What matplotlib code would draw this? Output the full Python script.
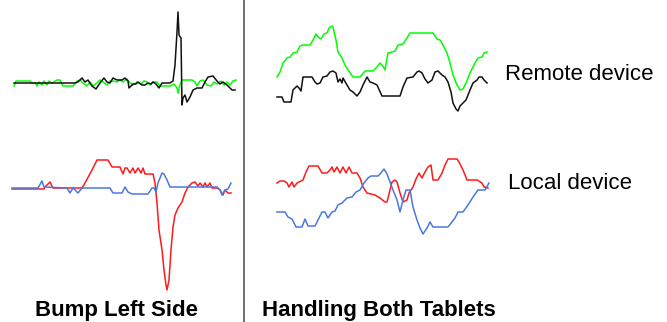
import matplotlib
matplotlib.use("Agg")
import matplotlib.pyplot as plt

# values (x along the trace, y in picture rows, down = larger)

# --- Bump Left Side, upper pair ---
bump_green_x = [14, 16, 30, 32, 35, 37, 39, 42, 44, 47, 49, 52, 57, 60, 63, 73, 77, 80, 83, 87, 90, 93,
                97, 100, 103, 107, 110, 113, 117, 120, 123, 127, 129, 133, 137, 141, 144, 147, 150, 153,
                157, 160, 170, 174, 177, 178, 180, 182, 192, 195, 197, 200, 203, 207, 211, 214, 217, 221,
                224, 227, 230, 233, 236]
bump_green_y = [86, 81, 81, 83, 83, 86, 82, 85, 81, 85, 81, 83, 80, 80, 86, 86, 81, 80, 83, 86, 82, 86,
                83, 80, 82, 85, 81, 81, 82, 80, 82, 79, 82, 85, 82, 84, 81, 82, 85, 82,
                82, 86, 86, 84, 88, 93, 85, 80, 80, 82, 86, 81, 80, 85, 86, 82, 84, 81,
                85, 82, 85, 81, 80]
bump_black_x = [14, 75, 78, 82, 85, 88, 92, 96, 100, 104, 107, 110, 113, 117, 122, 125, 128, 129, 133,
                136, 138, 142, 145, 148, 151, 153, 156, 159, 162, 170, 173, 175, 177, 178, 179, 181, 182,
                183, 185, 187, 190, 193, 197, 202, 205, 208, 213, 217, 220, 223, 227, 232, 235]
bump_black_y = [83, 83, 82, 78, 82, 80, 86, 89, 83, 78, 82, 83, 78, 80, 80, 78, 81, 88, 84,
                84, 82, 85, 85, 83, 84, 82, 84, 88, 83, 83, 81, 65, 32, 12, 35, 38, 105,
                98, 95, 102, 97, 90, 88, 88, 82, 77, 76, 81, 84, 82, 85, 90, 90]

# --- Bump Left Side, lower pair ---
bump_red_x = [12, 44, 45, 50, 53, 82, 85, 92, 97, 108, 112, 120, 123, 125, 127, 130, 133, 135, 138, 141,
              143, 145, 153, 155, 157, 159, 162, 164, 166, 167, 169, 171, 173, 175, 178, 182, 185, 188,
              192, 195, 198, 200, 203, 205, 207, 210, 212, 217, 220, 223, 225, 228, 231]
bump_red_y = [189, 189, 187, 182, 188, 188, 183, 170, 160, 160, 167, 167, 174, 168, 168, 173, 168, 173,
              168, 173, 168, 174, 174, 183, 203, 230, 250, 270, 285, 290, 280, 250, 227, 215, 208, 202,
              193, 187, 183, 182, 186, 183, 187, 183, 187, 183, 188, 188, 190, 195, 190, 193, 193]
bump_blue_x = [12, 38, 42, 44, 67, 70, 73, 78, 82, 110, 113, 122, 125, 128, 132, 136, 148, 152, 154,
               156, 158, 162, 164, 167, 170, 217, 220, 222, 225, 228, 231]
bump_blue_y = [188, 188, 181, 187, 188, 193, 188, 193, 188, 188, 193, 193, 187, 192, 194, 194, 194, 188,
               188, 192, 183, 173, 174, 180, 187, 187, 190, 195, 190, 189, 183]

# --- Handling Both Tablets, remote device ---
remote_green_x = [277, 280, 283, 287, 290, 293, 297, 300, 303, 310, 313, 316, 318, 321, 324, 327, 329,
                  332, 333, 336, 338, 342, 345, 348, 353, 360, 365, 373, 377, 380, 383, 385, 388, 392,
                  395, 398, 403, 407, 410, 433, 437, 440, 443, 447, 450, 453, 457, 460, 463, 466, 470,
                  475, 478, 482, 484, 487]
remote_green_y = [77, 72, 63, 58, 57, 53, 52, 46, 45, 45, 40, 34, 37, 39, 34, 33, 28,
                  26, 27, 40, 52, 58, 65, 70, 77, 77, 71, 71, 67, 63, 66, 70, 53, 52,
                  51, 45, 44, 38, 33, 33, 39, 40, 45, 53, 63, 75, 85, 90, 89, 83, 73,
                  63, 58, 57, 53, 52]
remote_black_x = [277, 282, 284, 291, 293, 297, 299, 301, 303, 312, 315, 317, 320, 323, 327, 330, 333,
                  336, 338, 340, 342, 343, 347, 350, 353, 357, 360, 363, 367, 370, 373, 377, 382, 400,
                  403, 407, 413, 417, 419, 422, 425, 428, 432, 435, 438, 442, 445, 448, 451, 453, 456,
                  458, 460, 463, 466, 470, 473, 477, 479, 482, 484, 487]
remote_black_y = [97, 97, 102, 102, 90, 86, 88, 91, 77, 77, 82, 84, 83, 77, 76, 72, 71,
                  73, 82, 79, 83, 78, 85, 90, 92, 96, 92, 85, 77, 82, 83, 85, 96, 96,
                  87, 78, 77, 72, 71, 73, 79, 83, 80, 72, 71, 75, 77, 82, 92, 103, 109,
                  111, 106, 103, 100, 90, 83, 80, 77, 77, 80, 83]

# --- Handling Both Tablets, local device ---
local_red_x = [277, 280, 284, 287, 289, 292, 294, 297, 299, 303, 306, 309, 318, 322, 327, 330, 332, 334,
               337, 340, 343, 346, 349, 352, 357, 360, 363, 367, 375, 380, 385, 387, 390, 392, 395, 397,
               400, 403, 407, 409, 413, 416, 419, 422, 425, 428, 431, 433, 438, 442, 445, 448, 457, 459,
               463, 467, 477, 482, 484, 488]
local_red_y = [183, 181, 181, 183, 187, 182, 187, 183, 182, 180, 172, 166, 166, 173, 173, 170, 167, 172,
               167, 173, 167, 173, 167, 173, 173, 178, 187, 193, 195, 198, 202, 202, 190, 182, 180, 182,
               193, 202, 200, 193, 187, 179, 173, 178, 172, 167, 165, 180, 180, 173, 165, 159, 159, 162,
               170, 180, 180, 183, 187, 188]
local_blue_x = [277, 285, 288, 292, 296, 302, 305, 308, 315, 318, 322, 325, 328, 332, 335, 338, 342, 347,
                352, 356, 360, 364, 368, 371, 378, 381, 384, 387, 390, 393, 397, 400, 403, 406, 410, 413,
                417, 420, 423, 427, 430, 433, 448, 452, 455, 458, 463, 468, 473, 478, 485, 489]
local_blue_y = [212, 212, 217, 219, 227, 227, 219, 226, 226, 220, 212, 212, 218, 212, 211, 205, 203, 198,
                197, 192, 190, 183, 178, 176, 176, 173, 169, 174, 182, 190, 200, 212, 200, 190, 190, 207,
                220, 228, 234, 228, 222, 227, 227, 222, 218, 212, 212, 205, 197, 190, 190, 183]

captions = ["Bump Left Side", "Handling Both Tablets"]
device_labels = ["Remote device", "Local device"]

GREEN = "#00ff00"
BLACK = "#111111"
RED = "#ff1a1a"
BLUE = "#4a78e0"

fig = plt.figure(figsize=(6.67, 3.22), dpi=100)
ax = fig.add_axes([0, 0, 1, 1])
ax.set_xlim(0, 667)
ax.set_ylim(322, 0)
ax.axis("off")

lw = 1.1
ax.plot(bump_green_x, bump_green_y, color=GREEN, lw=lw)
ax.plot(bump_black_x, bump_black_y, color=BLACK, lw=lw)
ax.plot(bump_red_x, bump_red_y, color=RED, lw=lw)
ax.plot(bump_blue_x, bump_blue_y, color=BLUE, lw=lw)
ax.plot(remote_green_x, remote_green_y, color=GREEN, lw=lw)
ax.plot(remote_black_x, remote_black_y, color=BLACK, lw=lw)
ax.plot(local_red_x, local_red_y, color=RED, lw=lw)
ax.plot(local_blue_x, local_blue_y, color=BLUE, lw=lw)

# divider between the two panels
ax.axvline(244, color="#555555", lw=1.2)

font = ["Liberation Sans", "DejaVu Sans"]
ax.text(35, 316, captions[0], fontsize=16, fontweight="bold", family=font, va="baseline")
ax.text(262, 316, captions[1], fontsize=16, fontweight="bold", family=font, va="baseline")
ax.text(505, 74, device_labels[0], fontsize=16, family=font, va="center")
ax.text(508, 183, device_labels[1], fontsize=16, family=font, va="center")

fig.savefig("out.png", dpi=100, facecolor="white")
